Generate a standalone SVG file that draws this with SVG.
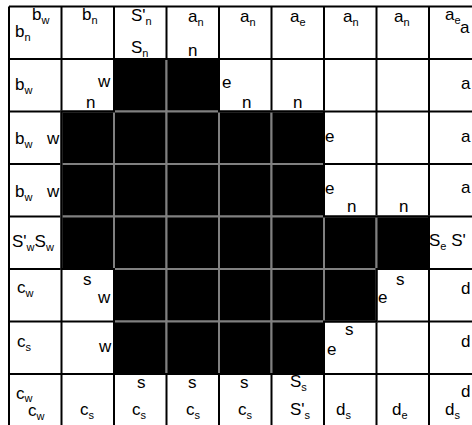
<svg xmlns="http://www.w3.org/2000/svg" width="472" height="425" viewBox="0 0 472 425">
<style>
text{font-family:"Liberation Sans",Arial,sans-serif;font-size:17px;fill:#000}
.s{font-size:11px}
.grid{fill:none;stroke:#000;stroke-width:2}
.blk{fill:#000;stroke:#808080;stroke-width:2}
.out{fill:none;stroke:#000;stroke-width:2}
</style>
<rect width="472" height="425" fill="#fff"/>
<g id="grid">
<path class="grid" d="M9,6.5V426.5M61.5,6.5V426.5M114,6.5V426.5M166.5,6.5V426.5M219,6.5V426.5M271.5,6.5V426.5M324,6.5V426.5M376.5,6.5V426.5M429,6.5V426.5M9,6.5H481.5M9,59H481.5M9,111.5H481.5M9,164H481.5M9,216.5H481.5M9,269H481.5M9,321.5H481.5M9,374H481.5M9,426.5H481.5"/>
</g>
<g id="black-cells">
<rect class="blk" x="114" y="59" width="52.5" height="52.5"/><rect class="blk" x="166.5" y="59" width="52.5" height="52.5"/>
<rect class="blk" x="61.5" y="111.5" width="52.5" height="52.5"/><rect class="blk" x="114" y="111.5" width="52.5" height="52.5"/><rect class="blk" x="166.5" y="111.5" width="52.5" height="52.5"/><rect class="blk" x="219" y="111.5" width="52.5" height="52.5"/><rect class="blk" x="271.5" y="111.5" width="52.5" height="52.5"/>
<rect class="blk" x="61.5" y="164" width="52.5" height="52.5"/><rect class="blk" x="114" y="164" width="52.5" height="52.5"/><rect class="blk" x="166.5" y="164" width="52.5" height="52.5"/><rect class="blk" x="219" y="164" width="52.5" height="52.5"/><rect class="blk" x="271.5" y="164" width="52.5" height="52.5"/>
<rect class="blk" x="61.5" y="216.5" width="52.5" height="52.5"/><rect class="blk" x="114" y="216.5" width="52.5" height="52.5"/><rect class="blk" x="166.5" y="216.5" width="52.5" height="52.5"/><rect class="blk" x="219" y="216.5" width="52.5" height="52.5"/><rect class="blk" x="271.5" y="216.5" width="52.5" height="52.5"/><rect class="blk" x="324" y="216.5" width="52.5" height="52.5"/><rect class="blk" x="376.5" y="216.5" width="52.5" height="52.5"/>
<rect class="blk" x="114" y="269" width="52.5" height="52.5"/><rect class="blk" x="166.5" y="269" width="52.5" height="52.5"/><rect class="blk" x="219" y="269" width="52.5" height="52.5"/><rect class="blk" x="271.5" y="269" width="52.5" height="52.5"/><rect class="blk" x="324" y="269" width="52.5" height="52.5"/>
<rect class="blk" x="114" y="321.5" width="52.5" height="52.5"/><rect class="blk" x="166.5" y="321.5" width="52.5" height="52.5"/><rect class="blk" x="219" y="321.5" width="52.5" height="52.5"/><rect class="blk" x="271.5" y="321.5" width="52.5" height="52.5"/>
<path class="out" d="M114,59H219V111.5H324V216.5H429V269H376.5V321.5H324V374H114V269H61.5V111.5H114Z"/>
</g>
<g id="labels">
<text x="32" y="20">b<tspan class="s" dy="4">w</tspan></text>
<text x="15" y="37">b<tspan class="s" dy="4">n</tspan></text>
<text x="82" y="20">b<tspan class="s" dy="4">n</tspan></text>
<text x="131" y="21">S'<tspan class="s" dy="4">n</tspan></text>
<text x="131" y="53">S<tspan class="s" dy="4">n</tspan></text>
<text x="188" y="22">a<tspan class="s" dy="4">n</tspan></text>
<text x="188" y="56">n</text>
<text x="240" y="22">a<tspan class="s" dy="4">n</tspan></text>
<text x="290" y="22">a<tspan class="s" dy="4">e</tspan></text>
<text x="343" y="22">a<tspan class="s" dy="4">n</tspan></text>
<text x="394" y="22">a<tspan class="s" dy="4">n</tspan></text>
<text x="445" y="20">a<tspan class="s" dy="4">e</tspan></text>
<text x="460" y="33">a</text>

<text x="15" y="90">b<tspan class="s" dy="4">w</tspan></text>
<text x="98" y="87">w</text>
<text x="86" y="108">n</text>
<text x="222" y="88">e</text>
<text x="242" y="108">n</text>
<text x="293" y="108">n</text>
<text x="461" y="89">a</text>

<text x="15" y="144">b<tspan class="s" dy="4">w</tspan></text>
<text x="47" y="144">w</text>
<text x="325" y="142">e</text>
<text x="461" y="142">a</text>

<text x="15" y="197">b<tspan class="s" dy="4">w</tspan></text>
<text x="47" y="197">w</text>
<text x="325" y="194">e</text>
<text x="347" y="212">n</text>
<text x="399" y="212">n</text>
<text x="461" y="193">a</text>

<text x="12" y="247">S'<tspan class="s" dy="4">w</tspan><tspan dy="-4">S</tspan><tspan class="s" dy="4">w</tspan></text>
<text x="429" y="246">S<tspan class="s" dy="4">e</tspan><tspan dy="-4"> S'</tspan></text>

<text x="17" y="293">c<tspan class="s" dy="4">w</tspan></text>
<text x="83" y="285">s</text>
<text x="98" y="303">w</text>
<text x="378" y="303">e</text>
<text x="396" y="285">s</text>
<text x="461" y="294">d</text>

<text x="17" y="347">c<tspan class="s" dy="4">s</tspan></text>
<text x="99" y="352">w</text>
<text x="327" y="355">e</text>
<text x="345" y="335">s</text>
<text x="461" y="347">d</text>

<text x="16" y="399">c<tspan class="s" dy="3">w</tspan></text>
<text x="28" y="416">c<tspan class="s" dy="4">w</tspan></text>
<text x="80" y="415">c<tspan class="s" dy="4">s</tspan></text>
<text x="137" y="388">s</text>
<text x="132" y="415">c<tspan class="s" dy="4">s</tspan></text>
<text x="188" y="388">s</text>
<text x="186" y="415">c<tspan class="s" dy="4">s</tspan></text>
<text x="240" y="388">s</text>
<text x="238" y="415">c<tspan class="s" dy="4">s</tspan></text>
<text x="290" y="387">S<tspan class="s" dy="4">s</tspan></text>
<text x="290" y="415">S'<tspan class="s" dy="4">s</tspan></text>
<text x="336" y="415">d<tspan class="s" dy="4">s</tspan></text>
<text x="392" y="415">d<tspan class="s" dy="4">e</tspan></text>
<text x="445" y="415">d<tspan class="s" dy="4">s</tspan></text>
<text x="461" y="397">d</text>
</g>
</svg>
